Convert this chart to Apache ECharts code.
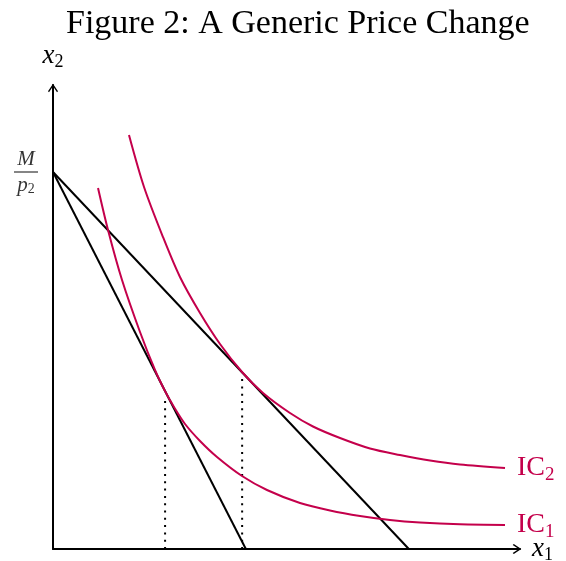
<!DOCTYPE html>
<html>
<head>
<meta charset="utf-8">
<script src="https://cdn.jsdelivr.net/npm/echarts@6/dist/echarts.min.js"></script>
<style>html,body{margin:0;padding:0;background:#fff;}#c{width:566px;height:561px;}</style>
</head>
<body>
<div id="c"></div>
<script>
// Intercept M/p2 and budget line x-intercepts (data units)
const interceptY = 8.125;
const budget1 = [[0, 8.125], [4.13, 0]];
const budget2 = [[0, 8.125], [7.62, 0]];
// Indifference curves
const ic1 = [[0.964,7.780],[1.178,6.875],[1.478,5.797],[1.863,4.677],[2.184,3.858],[2.398,3.405],[2.591,3.060],[2.827,2.694],[3.148,2.328],[3.512,1.983],[4.047,1.573],[4.582,1.272],[5.289,0.991],[5.931,0.830],[6.574,0.711],[7.216,0.625],[7.859,0.571],[8.715,0.532],[9.679,0.517]];
const ic2 = [[1.627,8.922],[1.949,7.802],[2.355,6.724],[2.719,5.862],[3.148,5.086],[3.576,4.418],[4.047,3.815],[4.497,3.362],[5.075,2.931],[5.567,2.640],[6.146,2.392],[6.788,2.166],[7.430,2.026],[8.073,1.907],[8.715,1.821],[9.679,1.746]];
// Dotted drop lines
const drop1 = [[2.40, 0], [2.40, 3.30]];
const drop2 = [[4.05, 0], [4.05, 3.76]];
const labels = { title: 'Figure 2: A Generic Price Change', ic1: 'IC', ic2: 'IC', xName: 'x', yName: 'x' };

const RED = '#c4004b';
const SERIF = 'Liberation Serif';
const arrowPath = 'path://M5,0 L10,7.5 L9,8.6 L5,2.6 L1,8.6 L0,7.5 Z';

const chart = echarts.init(document.getElementById('c'));
const subRich = {
  t: { fontFamily: SERIF, fontSize: 28, color: RED },
  s: { fontFamily: SERIF, fontSize: 19, color: RED, padding: [14, 0, 0, 0] }
};
chart.setOption({
  animation: false,
  backgroundColor: '#fff',
  title: {
    text: labels.title, left: 61, top: 2,
    textStyle: { fontFamily: SERIF, fontSize: 34, fontWeight: 'normal', color: '#000' }
  },
  grid: { left: 53, top: 85, width: 467, height: 464, outerBoundsMode: 'none', containLabel: false },
  xAxis: {
    type: 'value', min: 0, max: 10,
    axisLine: { show: true, symbol: ['none', arrowPath], symbolSize: [10, 9], symbolOffset: [0, -3],
      lineStyle: { color: '#000', width: 2 } },
    axisTick: { show: false }, axisLabel: { show: false }, splitLine: { show: false },
    name: '{x|' + labels.xName + '}{s|1}', nameLocation: 'end', nameGap: 12,
    nameTextStyle: { rich: {
      x: { fontFamily: SERIF, fontStyle: 'italic', fontSize: 27, color: '#000' },
      s: { fontFamily: SERIF, fontSize: 18, color: '#000', padding: [13, 0, 0, 0] } } }
  },
  yAxis: {
    type: 'value', min: 0, max: 10,
    axisLine: { show: true, symbol: ['none', arrowPath], symbolSize: [10, 9], symbolOffset: [0, -3],
      lineStyle: { color: '#000', width: 2 } },
    axisTick: { show: false }, axisLabel: { show: false }, splitLine: { show: false },
    name: '{x|' + labels.yName + '}{s|2}', nameLocation: 'end', nameGap: 14,
    nameTextStyle: { rich: {
      x: { fontFamily: SERIF, fontStyle: 'italic', fontSize: 27, color: '#000' },
      s: { fontFamily: SERIF, fontSize: 18, color: '#000', padding: [13, 0, 0, 0] } } }
  },
  series: [
    { type: 'line', data: budget1, showSymbol: false, lineStyle: { color: '#000', width: 2 } },
    { type: 'line', data: budget2, showSymbol: false, lineStyle: { color: '#000', width: 2 } },
    { type: 'line', data: drop1, showSymbol: false, lineStyle: { color: '#000', width: 2, type: [2, 5.3] } },
    { type: 'line', data: drop2, showSymbol: false, lineStyle: { color: '#000', width: 2, type: [2, 5.3] } },
    { type: 'line', data: ic1, showSymbol: false, smooth: 0.3,
      lineStyle: { color: RED, width: 2 },
      endLabel: { show: true, distance: 12, formatter: '{t|' + labels.ic1 + '}{s|1}', rich: subRich } },
    { type: 'line', data: ic2, showSymbol: false, smooth: 0.3,
      lineStyle: { color: RED, width: 2 },
      endLabel: { show: true, distance: 12, formatter: '{t|' + labels.ic2 + '}{s|2}', rich: subRich } },
    { type: 'scatter', data: [[0, interceptY]], symbolSize: 0, silent: true,
      label: { show: true, position: 'left', distance: 27, align: 'center',
        formatter: '{m|M}\n{bar|}\n{p|p}{s|2}',
        rich: {
          m: { fontFamily: SERIF, fontStyle: 'italic', fontSize: 21, color: '#000', lineHeight: 20, align: 'center' },
          bar: { width: 24, height: 1.2, backgroundColor: '#000', lineHeight: 6, align: 'center' },
          p: { fontFamily: SERIF, fontStyle: 'italic', fontSize: 21, color: '#000', lineHeight: 20 },
          s: { fontFamily: SERIF, fontSize: 14, color: '#000', lineHeight: 20, padding: [8, 0, 0, 0] }
        } } }
  ]
});
</script>
</body>
</html>
